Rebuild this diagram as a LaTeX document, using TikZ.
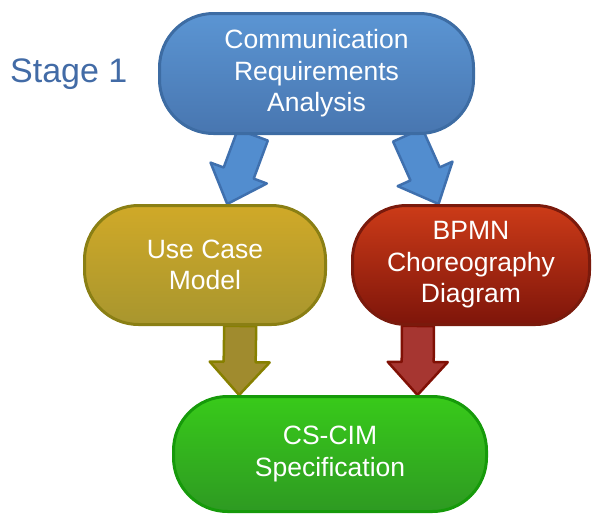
\documentclass[tikz,border=0pt]{standalone}
\usepackage{fontspec}
\setmainfont{Liberation Sans}
\usetikzlibrary{calc,backgrounds}
\definecolor{StageBlue}{HTML}{426BA6}
\definecolor{ReqTop}{HTML}{5B95D3}
\definecolor{ReqBot}{HTML}{4876B0}
\definecolor{ReqEdge}{HTML}{3D6CA3}
\definecolor{UseTop}{HTML}{D0A928}
\definecolor{UseBot}{HTML}{A8962E}
\definecolor{UseEdge}{HTML}{8A7F14}
\definecolor{BpmnTop}{HTML}{CC3B18}
\definecolor{BpmnBot}{HTML}{7E150A}
\definecolor{BpmnEdge}{HTML}{7A1A0C}
\definecolor{CimTop}{HTML}{38CA1A}
\definecolor{CimBot}{HTML}{2E9A22}
\definecolor{CimEdge}{HTML}{169A0A}
\definecolor{ArrBlue}{HTML}{528DCF}
\definecolor{ArrBlueEdge}{HTML}{3F70AE}
\definecolor{ArrOlive}{HTML}{A08B2E}
\definecolor{ArrOliveEdge}{HTML}{878000}
\definecolor{ArrRed}{HTML}{A63631}
\definecolor{ArrRedEdge}{HTML}{801005}

\begin{document}
\begin{tikzpicture}[
  x=1pt,y=-1pt,
  stagebox/.style={draw,line width=3pt,rounded corners=54pt,align=center,
                   text=white,inner sep=0pt,
                   font=\fontsize{26.5}{31.5}\selectfont},
  fatarrow/.style 2 args={fill=#1,draw=#2,line width=2.5pt,line join=round,
    to path={($(\tikztostart)!16pt!90:(\tikztotarget)$)
      -- ($(\tikztotarget)!33pt!(\tikztostart)!16pt!90:(\tikztotarget)$)
      -- ($(\tikztotarget)!33pt!(\tikztostart)!30pt!90:(\tikztotarget)$)
      -- (\tikztotarget)
      -- ($(\tikztotarget)!33pt!(\tikztostart)!30pt!-90:(\tikztotarget)$)
      -- ($(\tikztotarget)!33pt!(\tikztostart)!16pt!-90:(\tikztotarget)$)
      -- ($(\tikztostart)!16pt!-90:(\tikztotarget)$) -- cycle}}
]
  \useasboundingbox (0,0) rectangle (592,515);

  \node[stagebox,draw=ReqEdge,top color=ReqTop,bottom color=ReqBot,
        minimum width=314pt,minimum height=120pt] (crr) at (316.5,73.5)
    {Communication\\Requirements\\Analysis};
  \node[stagebox,draw=UseEdge,top color=UseTop,bottom color=UseBot,
        minimum width=241pt,minimum height=119pt] (use) at (205,265)
    {Use Case\\Model};
  \node[stagebox,draw=BpmnEdge,top color=BpmnTop,bottom color=BpmnBot,
        minimum width=237pt,minimum height=119pt] (bpmn) at (471,265)
    {BPMN\\Choreography\\Diagram};
  \node[stagebox,draw=CimEdge,top color=CimTop,bottom color=CimBot,
        minimum width=313pt,minimum height=115pt] (ccim) at (330,454)
    {CS-CIM\\Specification};

  \node[anchor=base west,inner sep=0pt,text=StageBlue,
        font=\fontsize{34}{40}\selectfont] (stage) at (10,82) {Stage 1};

  \begin{scope}[on background layer]
    \draw[fatarrow={ArrBlue}{ArrBlueEdge}] (crr.-136) to (use.70);
    \draw[fatarrow={ArrBlue}{ArrBlueEdge}] (crr.-34) to (bpmn.118);
    \draw[fatarrow={ArrOlive}{ArrOliveEdge}] (use.-60) to (ccim.147);
    \draw[fatarrow={ArrRed}{ArrRedEdge}] (bpmn.-131) to (ccim.34);
  \end{scope}
\end{tikzpicture}
\end{document}
